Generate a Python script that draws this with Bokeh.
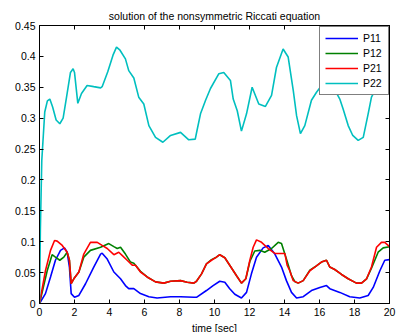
from bokeh.plotting import figure
from bokeh.models import Range1d, LinearAxis, FixedTicker, Legend, LegendItem
from bokeh.embed import file_html
from bokeh.resources import INLINE

# ---- data ----
t11 = [0, 0.34, 0.63, 0.91, 1.2, 1.43, 1.58, 1.71, 1.81, 2.0, 2.25, 2.63, 3.1, 3.49, 3.58, 3.87,
       4.25, 4.63, 4.91, 5.1, 5.39, 5.77, 6.25, 6.72, 7.49, 8.06, 8.82, 8.97, 9.54, 9.92, 10.3,
       10.59, 10.87, 11.16, 11.54, 11.83, 12.11, 12.4, 12.78, 13.07, 13.45, 13.83, 14.11, 14.4,
       14.69, 15.07, 15.54, 16.02, 16.4, 16.59, 17.16, 17.73, 18.3, 18.78, 19.07, 19.45, 19.73, 20]
p11 = [0, 0.016, 0.043, 0.070, 0.086, 0.090, 0.083, 0.059, 0.016, 0.010, 0.013, 0.032, 0.059, 0.080,
       0.0815, 0.072, 0.051, 0.040, 0.029, 0.024, 0.024, 0.016, 0.011, 0.009, 0.011, 0.011, 0.010,
       0.010, 0.021, 0.029, 0.036, 0.0345, 0.024, 0.015, 0.009, 0.018, 0.048, 0.075, 0.090, 0.094,
       0.080, 0.059, 0.037, 0.018, 0.009, 0.011, 0.021, 0.026, 0.029, 0.024, 0.018, 0.011, 0.009,
       0.013, 0.026, 0.053, 0.070, 0.071]

t12 = [0, 0.44, 0.72, 0.91, 1.16, 1.39, 1.58, 1.71, 1.81, 1.96, 2.25, 2.53, 2.91, 3.49, 3.96, 4.25,
       4.44, 4.63, 4.91, 5.2, 5.39, 5.77, 6.15, 6.63, 7.1, 7.49, 8.06, 8.44, 8.82, 8.97, 9.26, 9.54,
       9.83, 10.11, 10.3, 10.59, 10.87, 11.26, 11.54, 11.79, 12.02, 12.3, 12.59, 12.87, 13.26, 13.64,
       13.83, 14.11, 14.4, 14.6, 14.78, 15.07, 15.45, 15.73, 16.11, 16.4, 16.59, 16.87, 17.26, 17.64,
       18.11, 18.4, 18.69, 18.97, 19.35, 19.64, 20]
p12 = [0, 0.053, 0.079, 0.075, 0.070, 0.075, 0.083, 0.070, 0.032, 0.040, 0.051, 0.075, 0.086, 0.091,
       0.097, 0.092, 0.089, 0.091, 0.080, 0.067, 0.065, 0.052, 0.043, 0.035, 0.033, 0.036, 0.037,
       0.0345, 0.033, 0.036, 0.048, 0.064, 0.071, 0.075, 0.079, 0.074, 0.062, 0.045, 0.033, 0.040,
       0.068, 0.085, 0.086, 0.083, 0.089, 0.099, 0.097, 0.072, 0.045, 0.035, 0.033, 0.037, 0.054,
       0.059, 0.067, 0.070, 0.059, 0.055, 0.047, 0.040, 0.033, 0.033, 0.040, 0.057, 0.083, 0.090, 0.092]

t21 = [0, 0.34, 0.63, 0.86, 1.01, 1.3, 1.58, 1.71, 1.81, 1.96, 2.25, 2.53, 2.91, 3.3, 3.58, 3.87,
       4.25, 4.53, 4.72, 5.01, 5.3, 5.49, 5.77, 6.15, 6.63, 7.1, 7.49, 8.06, 8.44, 8.82, 8.97, 9.26,
       9.54, 9.83, 10.11, 10.3, 10.59, 10.87, 11.26, 11.54, 11.79, 12.02, 12.21, 12.4, 12.69, 13.07,
       13.45, 14.02, 14.15, 14.3, 14.5, 14.78, 15.07, 15.45, 15.73, 16.11, 16.4, 16.59, 16.87, 17.26,
       17.64, 18.11, 18.4, 18.69, 18.97, 19.26, 19.54, 19.73, 20]
p21 = [0, 0.053, 0.086, 0.102, 0.101, 0.094, 0.083, 0.070, 0.032, 0.040, 0.051, 0.080, 0.099, 0.099,
       0.094, 0.089, 0.079, 0.083, 0.078, 0.070, 0.062, 0.062, 0.051, 0.043, 0.035, 0.033, 0.036,
       0.037, 0.0345, 0.033, 0.036, 0.048, 0.064, 0.070, 0.075, 0.079, 0.074, 0.062, 0.045, 0.033,
       0.040, 0.070, 0.091, 0.103, 0.099, 0.089, 0.081, 0.081, 0.062, 0.053, 0.037, 0.033, 0.037,
       0.053, 0.059, 0.067, 0.070, 0.059, 0.055, 0.047, 0.040, 0.033, 0.033, 0.040, 0.059, 0.091,
       0.099, 0.099, 0.092]

t22 = [0, 0.05, 0.13, 0.3, 0.45, 0.59, 0.75, 0.95, 1.16, 1.35, 1.55, 1.77, 1.92, 2.0, 2.19, 2.4,
       2.72, 3.1, 3.49, 3.58, 3.9, 4.2, 4.4, 4.6, 4.91, 5.1, 5.39, 5.67, 5.96, 6.25, 6.63, 7.05,
       7.49, 8.06, 8.53, 8.9, 9.0, 9.2, 9.49, 9.77, 10.25, 10.53, 10.91, 11.07, 11.3, 11.54, 11.83,
       12.15, 12.53, 12.91, 13.26, 13.54, 13.92, 14.21, 14.5, 14.69, 14.91, 15.16, 15.54, 15.83,
       16.1, 16.4, 16.8, 17.16, 17.35, 17.64, 17.9, 18.21, 18.5, 18.78, 18.97, 19.3, 19.6, 19.87, 20]
p22 = [0, 0.12, 0.231, 0.31, 0.328, 0.331, 0.318, 0.297, 0.291, 0.300, 0.335, 0.374, 0.380, 0.374,
       0.324, 0.340, 0.353, 0.351, 0.349, 0.351, 0.375, 0.402, 0.415, 0.410, 0.396, 0.377, 0.365,
       0.334, 0.323, 0.288, 0.269, 0.261, 0.272, 0.277, 0.265, 0.266, 0.280, 0.307, 0.329, 0.348,
       0.372, 0.374, 0.361, 0.331, 0.312, 0.279, 0.307, 0.350, 0.323, 0.319, 0.337, 0.382, 0.412,
       0.399, 0.345, 0.304, 0.275, 0.288, 0.329, 0.342, 0.352, 0.360, 0.350, 0.331, 0.315, 0.288,
       0.272, 0.264, 0.269, 0.307, 0.334, 0.352, 0.362, 0.364, 0.366]

names = ["P11", "P12", "P21", "P22"]
colors = ["#0000ff", "#008000", "#ff0000", "#00bfbf"]
x_ticks = [0, 2, 4, 6, 8, 10, 12, 14, 16, 18, 20]
y_ticks = [0, 0.05, 0.1, 0.15, 0.2, 0.25, 0.3, 0.35, 0.4, 0.45]
y_tick_labels = ["0", "0.05", "0.1", "0.15", "0.2", "0.25", "0.3", "0.35", "0.4", "0.45"]
title_text = "solution of the nonsymmetric Riccati equation"
x_label = "time [sec]"

FONT = "Liberation Sans"
FS = "10.5px"

p = figure(frame_width=350, frame_height=278,
           min_border_left=39, min_border_right=7, min_border_top=25, min_border_bottom=29,
           x_range=Range1d(0, 20), y_range=Range1d(0, 0.45),
           output_backend="svg", toolbar_location=None, title=title_text,
           x_axis_label=x_label, background_fill_color="white", border_fill_color="white")

p.title.text_font = FONT
p.title.text_font_size = FS
p.title.text_font_style = "normal"
p.title.align = "center"
p.title.text_color = "black"
p.title.standoff = 8

p.grid.visible = False
p.outline_line_color = "black"

def style_axis(ax, labels=True):
    ax.axis_line_color = "black"
    ax.major_tick_line_color = "black"
    ax.major_tick_in = 4
    ax.major_tick_out = 0
    ax.minor_tick_line_color = None
    ax.major_label_text_font = FONT
    ax.major_label_text_font_size = FS if labels else "0px"
    ax.major_label_text_color = "black" if labels else None
    ax.major_label_standoff = 4 if labels else 0
    ax.axis_label_text_font = FONT
    ax.axis_label_text_font_size = FS
    ax.axis_label_text_font_style = "normal"
    ax.axis_label_text_color = "black"

xa = p.xaxis[0]
ya = p.yaxis[0]
xa.ticker = FixedTicker(ticks=x_ticks)
ya.ticker = FixedTicker(ticks=y_ticks)
ya.major_label_overrides = {v: s for v, s in zip(y_ticks, y_tick_labels)}
style_axis(xa)
style_axis(ya)
xa.axis_label_standoff = 3

ra = LinearAxis(ticker=FixedTicker(ticks=y_ticks))
style_axis(ra, labels=False)
p.add_layout(ra, "right")
ta = LinearAxis(ticker=FixedTicker(ticks=x_ticks))
style_axis(ta, labels=False)
p.add_layout(ta, "above")

items = []
for t, v, n, c in zip([t11, t12, t21, t22], [p11, p12, p21, p22], names, colors):
    r = p.line(t, v, line_color=c, line_width=1.6)
    items.append(LegendItem(label=n, renderers=[r]))

leg = Legend(items=items, location=(280, 208), border_line_color="black",
             border_line_width=1, background_fill_color="white", background_fill_alpha=1,
             label_text_font=FONT, label_text_font_size=FS, label_text_color="black",
             glyph_width=33, glyph_height=12, label_height=12, label_standoff=5,
             spacing=3, padding=5, margin=0, label_width=20)
p.add_layout(leg, "center")

open("out.html", "w").write(file_html(p, INLINE))
